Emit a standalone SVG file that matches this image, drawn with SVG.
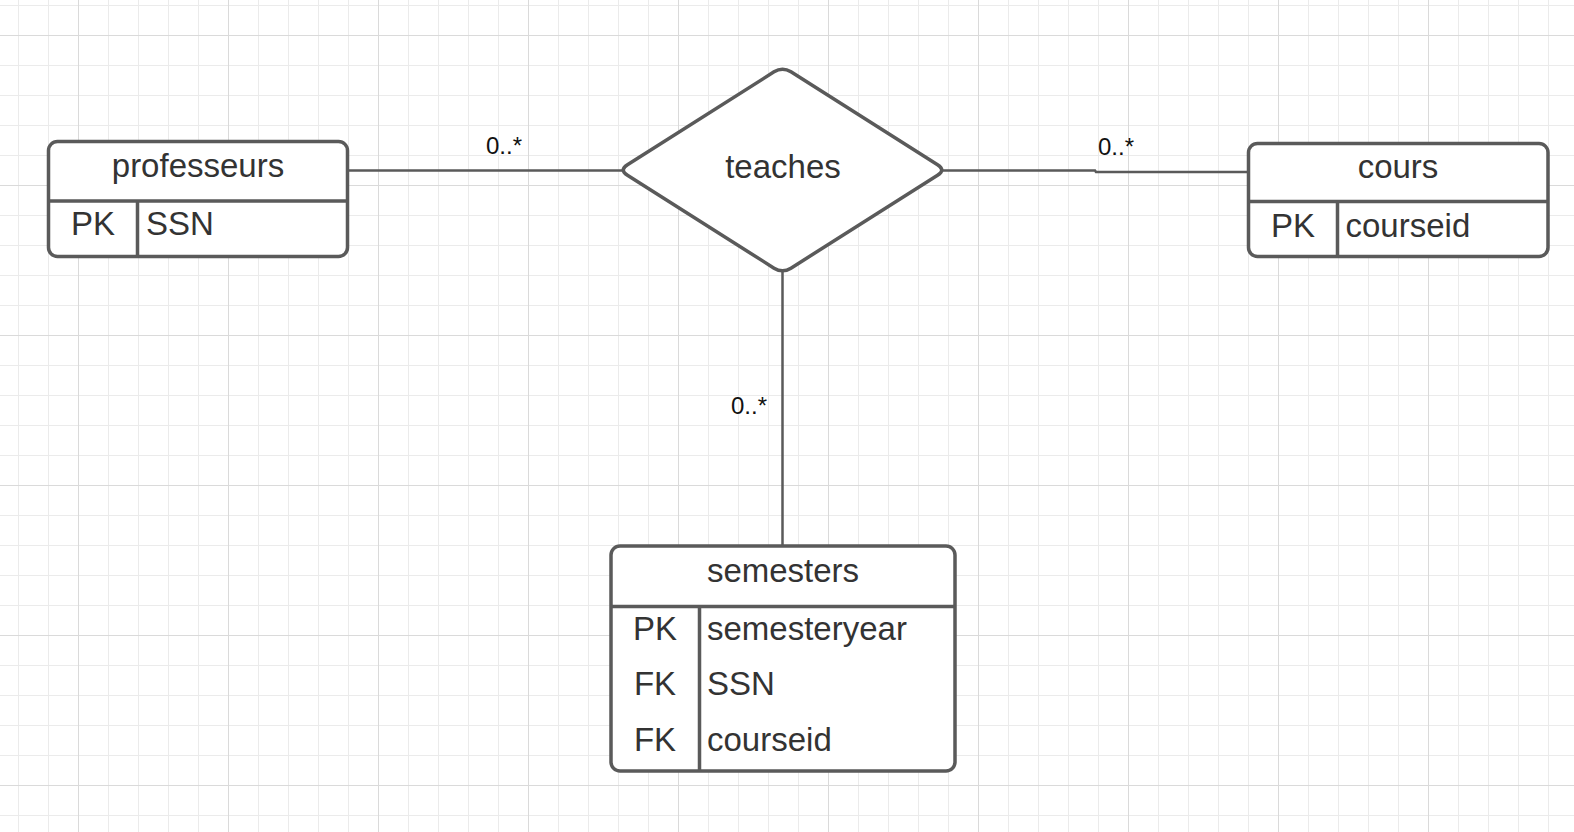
<svg xmlns="http://www.w3.org/2000/svg" width="1574" height="832" viewBox="0 0 1574 832">
  <defs>
    <pattern id="minorGrid" width="30" height="30" patternUnits="userSpaceOnUse" x="18" y="5">
      <path d="M0.5,0 V30 M0,0.5 H30" stroke="#ebebeb" stroke-width="1" fill="none"/>
    </pattern>
    <pattern id="majorGrid" width="150" height="150" patternUnits="userSpaceOnUse" x="78" y="35">
      <path d="M0.5,0 V150 M0,0.5 H150" stroke="#dadada" stroke-width="1" fill="none"/>
    </pattern>
    <style>
      .box { fill: #ffffff; stroke: #5a5a5a; stroke-width: 3.5; }
      .div { stroke: #5a5a5a; stroke-width: 3.5; fill: none; }
      .conn { stroke: #5a5a5a; stroke-width: 2.5; fill: none; }
      .t { font-family: "Liberation Sans", Arial, sans-serif; font-size: 33px; fill: #333333; }
      .c { text-anchor: middle; }
      .lbl { font-family: "Liberation Sans", Arial, sans-serif; font-size: 24px; fill: #111111; }
    </style>
  </defs>

  <rect x="0" y="0" width="1574" height="832" fill="#ffffff"/>
  <rect x="0" y="0" width="1574" height="832" fill="url(#minorGrid)"/>
  <rect x="0" y="0" width="1574" height="832" fill="url(#majorGrid)"/>

  <g id="connectors">
    <path class="conn" d="M349,170.5 H623"/>
    <path class="conn" d="M942,170.5 H1095 L1096,172 H1248"/>
    <path class="conn" d="M782.5,270 V546"/>
    <text class="lbl" x="486" y="154">0..*</text>
    <text class="lbl" x="1098" y="155">0..*</text>
    <text class="lbl" x="731" y="414">0..*</text>
  </g>

  <g id="professeurs">
    <rect class="box" x="48.5" y="141.5" width="299" height="115" rx="9" ry="9"/>
    <path class="div" d="M48.5,201 H347.5 M137.5,201 V256.5"/>
    <text class="t c" x="198" y="177">professeurs</text>
    <text class="t c" x="93" y="235">PK</text>
    <text class="t" x="146" y="235">SSN</text>
  </g>

  <g id="teaches">
    <path class="box" d="M774.05,71.85 Q782.5,66.5 790.95,71.85 L937.55,164.65 Q946,170 937.55,175.35 L790.95,268.15 Q782.5,273.5 774.05,268.15 L627.45,175.35 Q619,170 627.45,164.65 Z"/>
    <text class="t c" x="783" y="178">teaches</text>
  </g>

  <g id="cours">
    <rect class="box" x="1248.5" y="143.5" width="299.5" height="113" rx="9" ry="9"/>
    <path class="div" d="M1248.5,201.5 H1548 M1337.5,201.5 V256.5"/>
    <text class="t c" x="1398" y="178">cours</text>
    <text class="t c" x="1293" y="236.5">PK</text>
    <text class="t" x="1345.5" y="236.5">courseid</text>
  </g>

  <g id="semesters">
    <rect class="box" x="611" y="546" width="344" height="225" rx="9" ry="9"/>
    <path class="div" d="M611,606.5 H955 M699.5,606.5 V771"/>
    <text class="t c" x="783" y="582">semesters</text>
    <text class="t c" x="655" y="640">PK</text>
    <text class="t" x="707" y="640">semesteryear</text>
    <text class="t c" x="655" y="695">FK</text>
    <text class="t" x="707" y="695">SSN</text>
    <text class="t c" x="655" y="751">FK</text>
    <text class="t" x="707" y="751">courseid</text>
  </g>
</svg>
